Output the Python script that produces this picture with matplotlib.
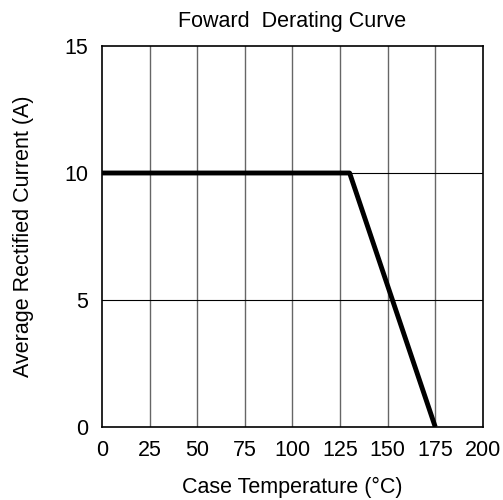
import matplotlib
matplotlib.use("Agg")
import matplotlib.pyplot as plt

plt.rcParams['font.family'] = ['Liberation Sans', 'DejaVu Sans']

# derating curve breakpoints
temp_c = [0, 130, 175]
current_a = [10, 10, 0]

x_ticks = [0, 25, 50, 75, 100, 125, 150, 175, 200]
y_ticks = [0, 5, 10, 15]

fig = plt.figure(figsize=(5.03, 5.0), dpi=100)
ax = fig.add_axes([0.203, 0.146, 0.757, 0.762])

for x in x_ticks[1:-1]:
    ax.axvline(x, color='#666666', linewidth=1.0, zorder=1)
for y in y_ticks[1:-1]:
    ax.axhline(y, color='black', linewidth=0.8, zorder=1)

ax.plot(temp_c, current_a, color='black', linewidth=3.5, solid_capstyle='butt', zorder=3)

ax.set_xlim(0, 200)
ax.set_ylim(0, 15)
ax.set_xticks(x_ticks)
ax.set_yticks(y_ticks)
ax.tick_params(axis='x', length=0, labelsize=15.5, pad=9)
ax.tick_params(axis='y', length=0, labelsize=15.5, pad=10)
for s in ax.spines.values():
    s.set_linewidth(1.2)

ax.set_xlabel('Case Temperature (°C)', fontsize=15.5, labelpad=12)
ax.set_ylabel('Average Rectified Current (A)', fontsize=15.5, labelpad=22)
ax.set_title('Foward  Derating Curve', fontsize=15.5, pad=14)

fig.savefig('out.png', dpi=100)
